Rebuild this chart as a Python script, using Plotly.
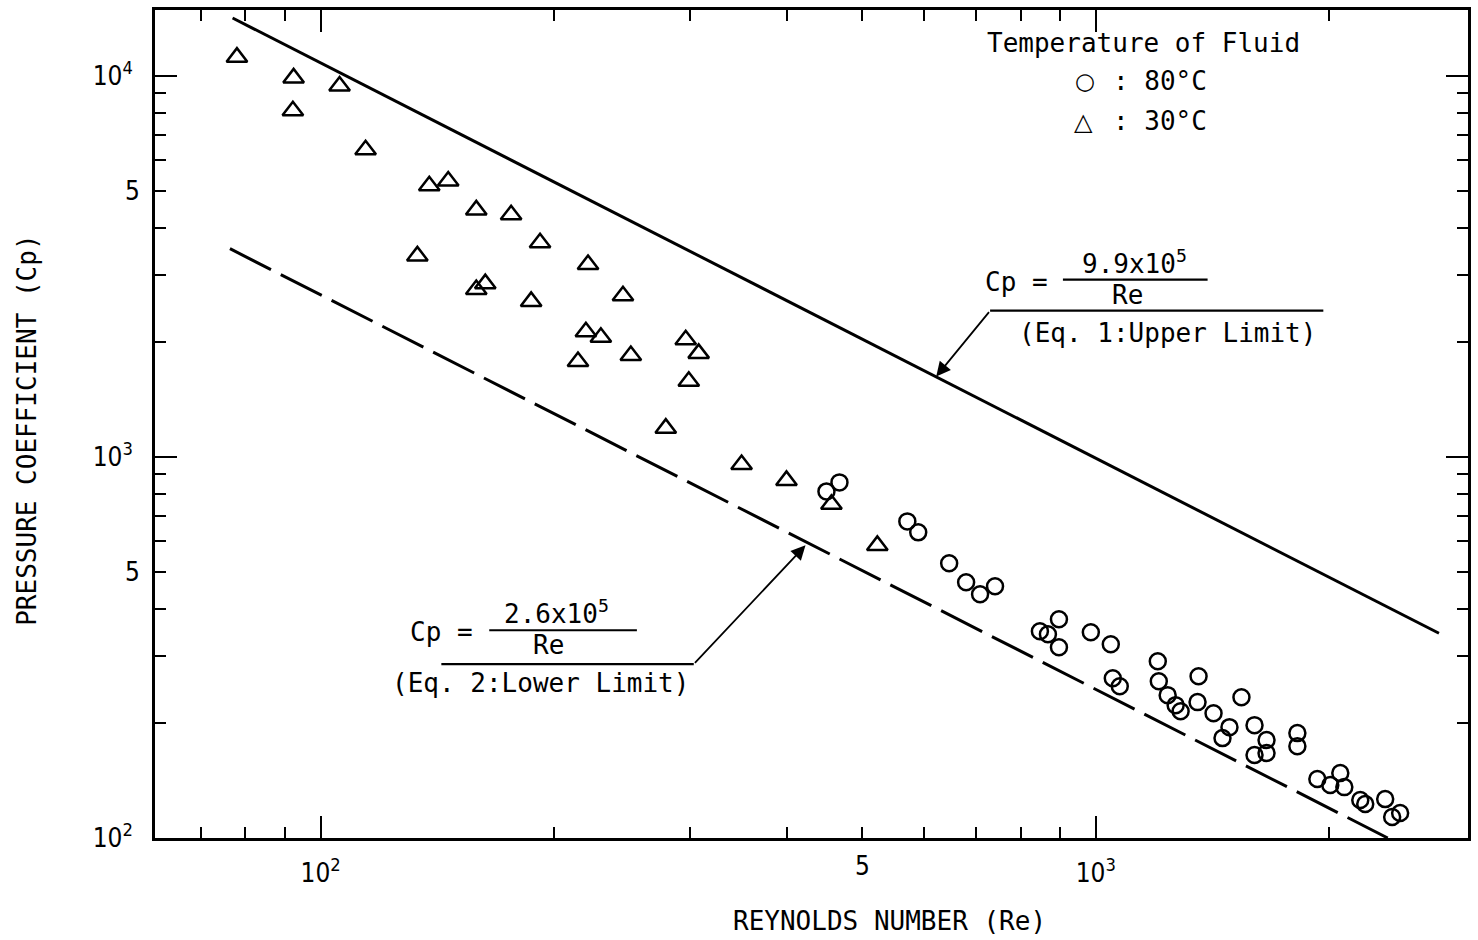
import plotly.graph_objects as go

# ---------------- data ----------------
# 30 degC (triangles)
re_30 = [78.0, 92.3, 105.8, 92.1, 114.3, 138.1, 146.1, 158.8, 176.1, 191.9,
         133.3, 221.3, 163.1, 158.8, 186.9, 245.5, 219.9, 229.9, 214.8, 251.3,
         295.8, 307.4, 298.5, 278.8, 349.2, 399.0, 456.0, 522.6]
cp_30 = [11200, 9880, 9410, 8100, 6400, 5150, 5300, 4450, 4320, 3650,
         3370, 3200, 2850, 2750, 2560, 2650, 2130, 2060, 1780, 1845,
         2030, 1870, 1580, 1190, 955, 868, 751, 586]

# 80 degC (circles)
re_80 = [449.3, 467.0, 571.3, 590.1, 646.9, 680.3, 709.1, 741.3, 847.0, 867.4,
         896.3, 896.3, 985.3, 1045.5, 1051.7, 1073.7, 1202.1, 1205.7, 1237.9, 1267.6,
         1286.4, 1352.8, 1356.9, 1418.6, 1541.2, 1487.3, 1456.8, 1602.2, 1660.4, 1602.2,
         1660.4, 1819.7, 1819.7, 1930.9, 2006.6, 2067.1, 2092.0, 2193.5, 2226.1, 2361.9,
         2411.4, 2469.2]
cp_80 = [812.1, 857.6, 677.5, 634.1, 525.9, 468.8, 436.1, 457.7, 348.9, 342.6,
         375.1, 316.7, 346.7, 322.5, 262.7, 250.3, 291.1, 257.9, 237.1, 223.2,
         215.2, 227.3, 265.9, 212.6, 234.2, 195.4, 182.9, 197.8, 180.7, 165.1,
         167.1, 188.5, 174.2, 142.8, 137.7, 148.1, 136.0, 125.8, 122.8, 126.5,
         113.5, 116.3]

# limit lines (end points as drawn)
upper_re = [77.0, 2771]
upper_cp = [14190, 344.6]
lower_re = [76.4, 2380]
lower_cp = [3520, 100]

x_ticks = [100, 1000]
x_ticktext = ["10<sup>2</sup>", "10<sup>3</sup>"]
x_minor = [70, 80, 90, 200, 300, 400, 500, 600, 700, 800, 900, 2000]
y_ticks = [100, 1000, 10000]
y_ticktext = ["10<sup>2</sup>", "10<sup>3</sup>", "10<sup>4</sup>"]
y_minor = [200, 300, 400, 500, 600, 700, 800, 900,
           2000, 3000, 4000, 5000, 6000, 7000, 8000, 9000]
five_x = [500]
five_y = [500, 5000]

# ---------------- layout geometry ----------------
W, H = 1478, 940
L, R, T, B = 155, 7, 9, 102
PW, PH = W - L - R, H - T - B
X_RANGE = [1.7864, 3.4801]
Y_RANGE = [2.0, 4.173]

MONO = "DejaVu Sans Mono"
TICKF = "DejaVu Sans Condensed, DejaVu Sans"
FS = 26


def px(x):
    return (x - L) / PW


def py(y):
    return (T + PH - y) / PH


fig = go.Figure()

fig.add_trace(go.Scatter(x=re_30, y=cp_30, mode="markers",
                         marker=dict(symbol="triangle-up-open", size=18, color="black",
                                     line=dict(width=2.5, color="black")),
                         showlegend=False, hoverinfo="skip"))
fig.add_trace(go.Scatter(x=re_80, y=cp_80, mode="markers",
                         marker=dict(symbol="circle-open", size=16, color="black",
                                     line=dict(width=2.5, color="black")),
                         showlegend=False, hoverinfo="skip"))
fig.add_trace(go.Scatter(x=upper_re, y=upper_cp, mode="lines", xaxis="x2", yaxis="y2",
                         line=dict(color="black", width=3),
                         showlegend=False, hoverinfo="skip"))
fig.add_trace(go.Scatter(x=lower_re, y=lower_cp, mode="lines", xaxis="x2", yaxis="y2",
                         line=dict(color="black", width=3, dash="46px,11px"),
                         showlegend=False, hoverinfo="skip"))

axis_common = dict(type="log", showgrid=False, zeroline=False,
                   tickfont=dict(family=TICKF, size=FS, color="black"))

fig.update_layout(
    width=W, height=H,
    margin=dict(l=L, r=R, t=T, b=B, pad=0),
    paper_bgcolor="white", plot_bgcolor="white",
    showlegend=False,
    xaxis=dict(**axis_common, range=X_RANGE, tickvals=x_ticks, ticktext=x_ticktext,
               ticks="inside", ticklen=22, tickwidth=2.2, tickcolor="black",
               showline=True, linewidth=2.8, linecolor="black", mirror="ticks",
               ticklabelstandoff=10,
               minor=dict(tickvals=x_minor, ticks="inside", ticklen=11,
                          tickwidth=2, tickcolor="black")),
    yaxis=dict(**axis_common, range=Y_RANGE, tickvals=y_ticks, ticktext=y_ticktext,
               ticks="inside", ticklen=22, tickwidth=2.2, tickcolor="black",
               showline=True, linewidth=2.8, linecolor="black", mirror="ticks",
               ticklabelstandoff=14,
               minor=dict(tickvals=y_minor, ticks="inside", ticklen=11,
                          tickwidth=2, tickcolor="black")),
    xaxis2=dict(**axis_common, range=X_RANGE, overlaying="x", anchor="y", side="bottom",
                tickvals=five_x, ticktext=["5"], ticks="", showline=False,
                ticklabelstandoff=10),
    yaxis2=dict(**axis_common, range=Y_RANGE, overlaying="y", anchor="x", side="left",
                tickvals=five_y, ticktext=["5", "5"], ticks="", showline=False,
                ticklabelstandoff=14),
)

ann = []
shapes = []


def text(t, x, y, xanchor="left", size=FS, family=MONO, angle=0):
    ann.append(dict(text=t, x=px(x), y=py(y), xref="paper", yref="paper",
                    xanchor=xanchor, yanchor="middle", showarrow=False,
                    textangle=angle, font=dict(family=family, size=size, color="black")))


def hline(x0, x1, y, w=2.2):
    shapes.append(dict(type="line", xref="paper", yref="paper",
                       x0=px(x0), x1=px(x1), y0=py(y), y1=py(y),
                       line=dict(color="black", width=w)))


def arrow(xt, yt, xs, ys):
    ann.append(dict(text="", x=px(xt), y=py(yt), xref="paper", yref="paper",
                    ax=xs - xt, ay=ys - yt, axref="pixel", ayref="pixel",
                    showarrow=True, arrowhead=2, arrowsize=1.6, arrowwidth=1.8,
                    arrowcolor="black", standoff=0, startstandoff=0))


# axis titles
text("REYNOLDS NUMBER (Re)", 891, 921, xanchor="center")
text("PRESSURE COEFFICIENT (Cp)", 27, 430, xanchor="center", angle=-90)

# legend block
text("Temperature of Fluid", 987, 42)
text("○", 1087, 80, xanchor="center", size=23, family="DejaVu Sans")
text(": 80°C", 1113, 80)
text("△", 1086, 121, xanchor="center", size=24, family="DejaVu Sans")
text(": 30°C", 1113, 120)

# upper limit equation
text("Cp =", 985, 281)
text("9.9x10<sup>5</sup>", 1137, 261, xanchor="center")
hline(1065, 1210, 279)
text("Re", 1130, 294, xanchor="center")
hline(992, 1326, 310)
text("(Eq. 1:Upper Limit)", 1019, 332)
arrow(938, 376, 992, 310)

# lower limit equation
text("Cp =", 409, 632)
text("2.6x10<sup>5</sup>", 557, 612, xanchor="center")
hline(490, 638, 630)
text("Re", 549, 645, xanchor="center")
hline(442, 695, 664)
text("(Eq. 2:Lower Limit)", 391, 683)
arrow(807, 545, 695, 664)

fig.update_layout(annotations=ann, shapes=shapes)

fig.write_html("out.html")
